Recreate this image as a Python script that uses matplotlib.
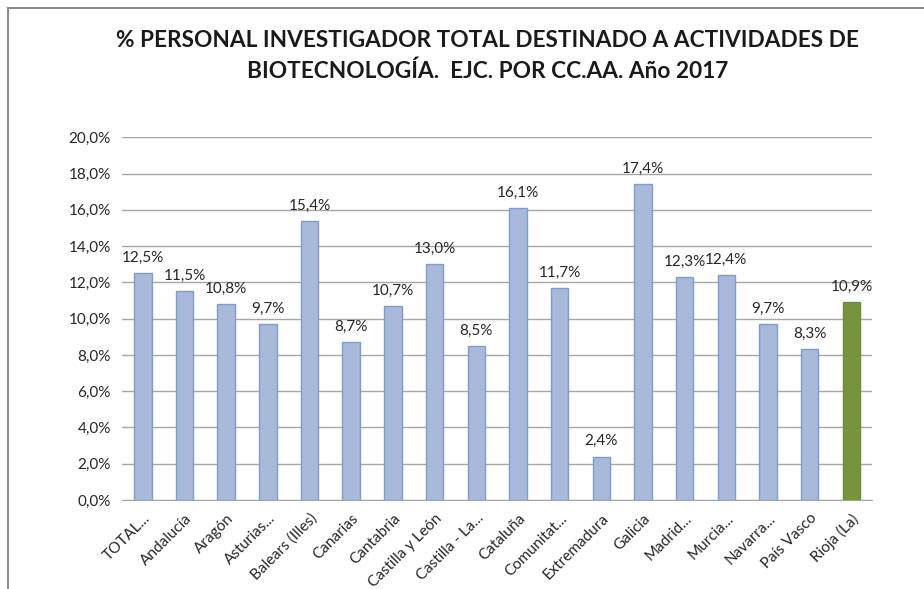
import numpy as np
import matplotlib.pyplot as plt
from matplotlib.lines import Line2D

# Data
regiones = ['TOTAL...', 'Andalucía', 'Aragón', 'Asturias...', 'Balears (Illes)', 'Canarias',
            'Cantabria', 'Castilla y León', 'Castilla - La...', 'Cataluña', 'Comunitat...',
            'Extremadura', 'Galicia', 'Madrid...', 'Murcia...', 'Navarra...', 'País Vasco',
            'Rioja (La)']
porcentaje = [12.5, 11.5, 10.8, 9.7, 15.4, 8.7, 10.7, 13.0, 8.5, 16.1, 11.7, 2.4, 17.4,
              12.3, 12.4, 9.7, 8.3, 10.9]
destacado = 'Rioja (La)'

plt.rcParams['font.family'] = ['Lato', 'DejaVu Sans']

fig = plt.figure(figsize=(9.24, 5.89), dpi=100)
ax = fig.add_axes([0.132, 0.151, 0.812, 0.616])

x = np.arange(len(regiones))
colores = ['#77933C' if r == destacado else '#A9B9D9' for r in regiones]
bordes = ['#6F8C3A' if r == destacado else '#7D9DCF' for r in regiones]
ax.bar(x, porcentaje, width=0.42, color=colores, edgecolor=bordes, linewidth=1, zorder=3)

for xi, v in zip(x, porcentaje):
    ax.text(xi, v + 0.45, f'{v:.1f}%'.replace('.', ','), ha='center', va='bottom',
            fontsize=11, color='#262626')

ax.set_xlim(-0.5, len(regiones) - 0.5)
ax.set_ylim(0, 20)
yt = np.arange(0, 21, 2)
ax.set_yticks(yt)
ax.set_yticklabels([f'{t:.1f}%'.replace('.', ',') for t in yt], fontsize=11, color='#262626')
ax.set_xticks(x)
ax.set_xticklabels(regiones, rotation=45, ha='right', rotation_mode='anchor',
                   fontsize=11, color='#262626')
ax.tick_params(axis='both', length=0, pad=8)
ax.grid(axis='y', color='#A6A6A6', linewidth=1, zorder=0)
for s in ['top', 'right', 'left']:
    ax.spines[s].set_visible(False)
ax.spines['bottom'].set_color('#A6A6A6')

fig.text(0.528, 0.905, '% PERSONAL INVESTIGADOR TOTAL DESTINADO A ACTIVIDADES DE\nBIOTECNOLOGÍA.  EJC. POR CC.AA. Año 2017',
         ha='center', va='center', fontsize=16.3, fontweight='bold', linespacing=1.5,
         color='#1a1a1a')

# chart frame (only top and left visible in the crop)
fig.add_artist(Line2D([0.009, 0.009], [0, 0.986], transform=fig.transFigure, color='#8C8C8C', lw=1.5))
fig.add_artist(Line2D([0.009, 1], [0.986, 0.986], transform=fig.transFigure, color='#8C8C8C', lw=1.5))

fig.savefig('out.png', dpi=100)
